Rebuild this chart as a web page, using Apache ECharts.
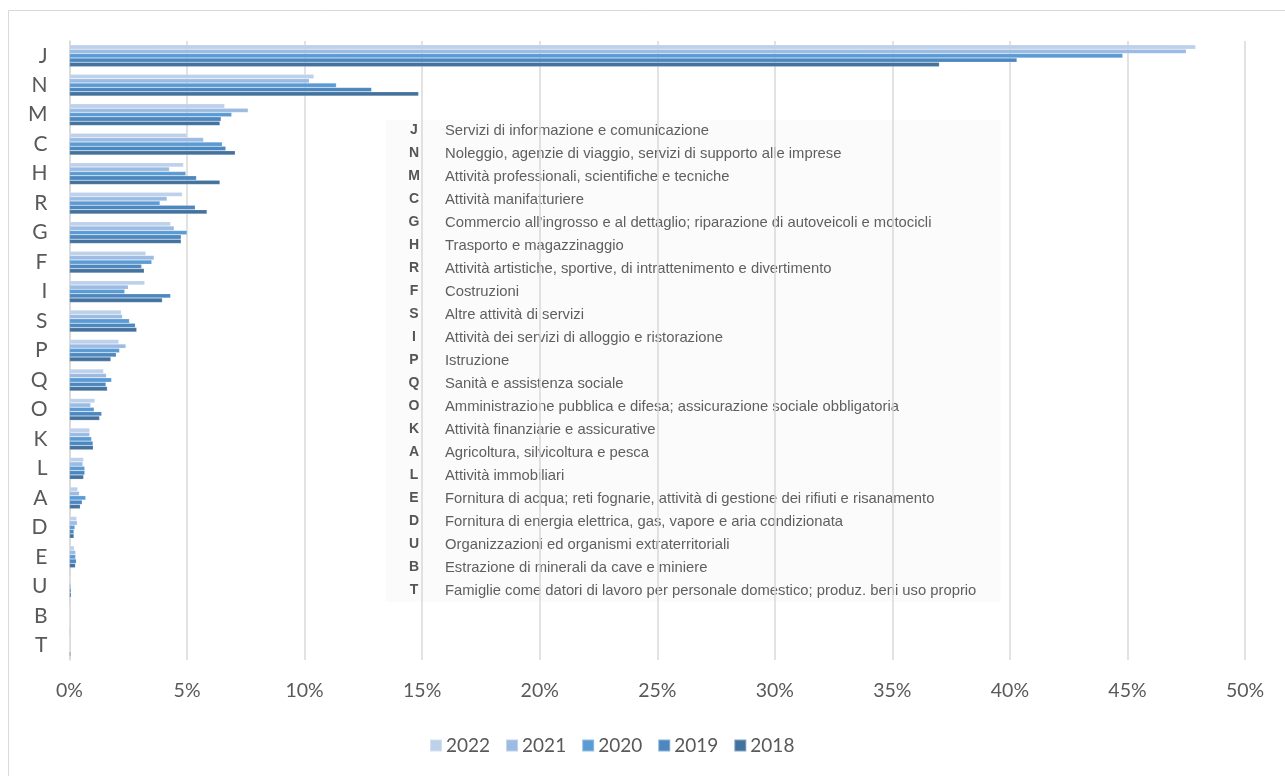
<!DOCTYPE html>
<html>
<head>
<meta charset="utf-8">
<script src="https://cdn.jsdelivr.net/npm/echarts@6/dist/echarts.min.js"></script>
<style>
  html, body { margin: 0; padding: 0; background: #ffffff; }
  #chart { width: 1285px; height: 776px; }
</style>
</head>
<body>
<div id="chart"></div>
<script>
// Sector codes, top to bottom
const categories = ['J','N','M','C','H','R','G','F','I','S','P','Q','O','K','L','A','D','E','U','B','T'];

// Share of each sector (%), one array per year
const v2022 = [47.9, 10.4, 6.6, 5.0, 4.85, 4.8, 4.3, 3.25, 3.2, 2.2, 2.1, 1.45, 1.08, 0.86, 0.60, 0.35, 0.31, 0.20, 0.02, 0.02, 0.01];
const v2021 = [47.5, 10.2, 7.6, 5.7, 4.25, 4.15, 4.45, 3.6, 2.5, 2.25, 2.4, 1.57, 0.90, 0.86, 0.57, 0.42, 0.33, 0.26, 0.03, 0.01, 0.01];
const v2020 = [44.8, 11.35, 6.9, 6.5, 4.95, 3.85, 5.0, 3.5, 2.35, 2.55, 2.13, 1.79, 1.05, 0.94, 0.65, 0.69, 0.23, 0.26, 0.05, 0.01, 0.01];
const v2019 = [40.3, 12.85, 6.45, 6.65, 5.4, 5.35, 4.75, 3.07, 4.3, 2.8, 1.99, 1.55, 1.37, 1.00, 0.65, 0.54, 0.19, 0.29, 0.07, 0.01, 0.02];
const v2018 = [37.0, 14.85, 6.4, 7.05, 6.4, 5.85, 4.75, 3.18, 3.95, 2.86, 1.76, 1.61, 1.28, 1.01, 0.60, 0.46, 0.19, 0.25, 0.07, 0.01, 0.05];

const years = ['2022', '2021', '2020', '2019', '2018'];
const yearValues = [v2022, v2021, v2020, v2019, v2018];
const yearColors = ['#bdd1eb', '#9cbbe2', '#5b9bd5', '#4d87bf', '#43729f'];

// Key of sector codes with their descriptions
const keyCodes = ['J','N','M','C','G','H','R','F','S','I','P','Q','O','K','A','L','E','D','U','B','T'];
const keyNames = [
  'Servizi di informazione e comunicazione',
  'Noleggio, agenzie di viaggio, servizi di supporto alle imprese',
  'Attività professionali, scientifiche e tecniche',
  'Attività manifatturiere',
  "Commercio all'ingrosso e al dettaglio; riparazione di autoveicoli e motocicli",
  'Trasporto e magazzinaggio',
  'Attività artistiche, sportive, di intrattenimento e divertimento',
  'Costruzioni',
  'Altre attività di servizi',
  'Attività dei servizi di alloggio e ristorazione',
  'Istruzione',
  'Sanità e assistenza sociale',
  'Amministrazione pubblica e difesa; assicurazione sociale obbligatoria',
  'Attività finanziarie e assicurative',
  'Agricoltura, silvicoltura e pesca',
  'Attività immobiliari',
  'Fornitura di acqua; reti fognarie, attività di gestione dei rifiuti e risanamento',
  'Fornitura di energia elettrica, gas, vapore e aria condizionata',
  'Organizzazioni ed organismi extraterritoriali',
  'Estrazione di minerali da cave e miniere',
  'Famiglie come datori di lavoro per personale domestico; produz. beni uso proprio'
];

const axisFont = 'Lato, "Open Sans", sans-serif';
const keyFont = '"Liberation Sans", Arial, sans-serif';

// Key panel drawn over the plot area
const keyLeft = 386, keyTop = 120, keyW = 615, keyH = 482;
const rowStart = 130.5, rowStep = 23;
const keyChildren = [{
  type: 'rect',
  shape: { x: keyLeft, y: keyTop, width: keyW, height: keyH },
  style: { fill: 'rgba(250,250,250,0.88)' }
}];
keyCodes.forEach((code, i) => {
  const y = rowStart + i * rowStep;
  keyChildren.push({
    type: 'text',
    x: 414, y: y,
    style: { text: code, font: 'bold 14px ' + keyFont, fill: '#555555', align: 'center', verticalAlign: 'middle' }
  });
  keyChildren.push({
    type: 'text',
    x: 445, y: y,
    style: { text: keyNames[i], font: '14.8px ' + keyFont, fill: '#5f5f5f', align: 'left', verticalAlign: 'middle' }
  });
});

const chart = echarts.init(document.getElementById('chart'), null, { renderer: 'canvas' });

chart.setOption({
  backgroundColor: '#ffffff',
  animation: false,
  grid: { left: 69.5, right: 40, top: 41, bottom: 116, containLabel: false },
  legend: {
    data: years,
    bottom: 16,
    left: 424,
    icon: 'rect',
    itemWidth: 12,
    itemHeight: 12,
    itemGap: 15,
    textStyle: { fontFamily: axisFont, fontSize: 19, color: '#595959', padding: [0, 0, 0, -1] }
  },
  xAxis: {
    type: 'value',
    min: 0,
    max: 50,
    interval: 5,
    axisLine: { show: false },
    axisTick: { show: false },
    axisLabel: {
      formatter: '{value}%',
      fontFamily: axisFont,
      fontSize: 19.5,
      color: '#595959',
      margin: 21
    },
    splitLine: { show: true, lineStyle: { color: '#d9d9d9', width: 1.5 } }
  },
  yAxis: {
    type: 'category',
    data: categories,
    inverse: true,
    axisLine: { show: true, lineStyle: { color: '#d9d9d9', width: 1.5 } },
    axisTick: { show: false },
    axisLabel: {
      fontFamily: axisFont,
      fontSize: 21,
      color: '#595959',
      margin: 22
    }
  },
  series: years.map((y, i) => ({
    name: y,
    type: 'bar',
    data: yearValues[i],
    barGap: '0%',
    barCategoryGap: '26%',
    itemStyle: { color: yearColors[i], borderColor: 'rgba(255,255,255,0.35)', borderWidth: 0.5 }
  })),
  color: yearColors,
  graphic: [
    {
      type: 'rect',
      silent: true,
      shape: { x: 8.5, y: 10.5, width: 1300, height: 800 },
      style: { fill: 'none', stroke: '#d9d9d9', lineWidth: 1 }
    },
    { type: 'group', children: keyChildren }
  ]
});
</script>
</body>
</html>
